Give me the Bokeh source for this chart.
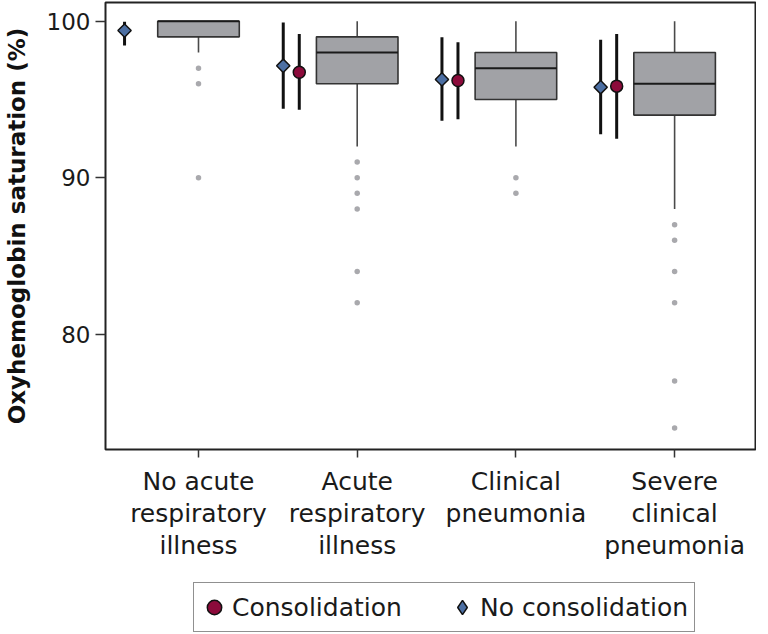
import numpy as np
from bokeh.plotting import figure
from bokeh.layouts import column
from bokeh.models import ColumnDataSource, FixedTicker, Range1d, Legend, LegendItem
from bokeh.embed import file_html
from bokeh.resources import INLINE

# ---------------- data ----------------
categories = ["No acute\nrespiratory\nillness", "Acute\nrespiratory\nillness",
              "Clinical\npneumonia", "Severe\nclinical\npneumonia"]
positions = [1, 2, 3, 4]
q1 = [99, 96, 95, 94]
median = [100, 98, 97, 96]
q3 = [100, 99, 98, 98]
whisker_low = [98, 92, 92, 88]
whisker_high = [100, 100, 100, 100]
outliers = [[97, 96, 90], [91, 90, 89, 88, 84, 82], [90, 89], [87, 86, 84, 82, 77, 74]]

nocons_mean = [99.40, 97.15, 96.28, 95.78]
nocons_low = [98.45, 94.40, 93.64, 92.78]
nocons_high = [99.96, 99.92, 98.98, 98.81]

cons_groups = [2, 3, 4]
cons_mean = [96.74, 96.21, 95.85]
cons_low = [94.34, 93.74, 92.49]
cons_high = [99.19, 98.66, 99.19]

y_ticks = [80, 90, 100]
legend_labels = ["Consolidation", "No consolidation"]

# ---------------- style ----------------
FONT = "DejaVu Sans"
BOX_W = 0.514
OFF_DIAMOND = -0.466
OFF_CIRCLE = -0.365
RED = "#8c0b3b"
BLUE = "#4c6fa3"

p = figure(frame_width=651, frame_height=447, output_backend="svg", toolbar_location=None,
           x_range=Range1d(0.414, 4.516), y_range=Range1d(72.63, 101.195),
           min_border_left=101, min_border_right=0, min_border_top=2, min_border_bottom=130)
p.grid.visible = False
p.outline_line_color = "#222222"
p.outline_line_width = 2
p.background_fill_color = "white"
p.border_fill_color = "white"

# boxes
pos = np.array(positions, dtype=float)
box_src = ColumnDataSource(dict(x=pos, q1=q1, q3=q3, med=median, lo=whisker_low, hi=whisker_high,
                                x0=pos - BOX_W / 2, x1=pos + BOX_W / 2))
p.segment(x0="x", y0="q3", x1="x", y1="hi", source=box_src, line_color="#4a4a4a", line_width=1.6)
p.segment(x0="x", y0="q1", x1="x", y1="lo", source=box_src, line_color="#4a4a4a", line_width=1.6)
p.vbar(x="x", width=BOX_W, bottom="q1", top="q3", source=box_src,
       fill_color="#a1a2a6", line_color="#333333", line_width=1.6)
p.segment(x0="x0", y0="med", x1="x1", y1="med", source=box_src, line_color="#1a1a1a", line_width=2)

# outliers
ox = [positions[i] for i, vals in enumerate(outliers) for _ in vals]
oy = [v for vals in outliers for v in vals]
p.scatter(ox, oy, size=5.5, fill_color="#a9a9ad", line_color=None)

# no consolidation: means and CIs
nx = pos + OFF_DIAMOND
nc_src = ColumnDataSource(dict(x=nx, m=nocons_mean, lo=nocons_low, hi=nocons_high))
p.segment(x0="x", y0="lo", x1="x", y1="hi", source=nc_src, line_color="#111111", line_width=3)
p.scatter(x="x", y="m", source=nc_src, marker="square", angle=np.pi / 4, size=9.4,
          fill_color=BLUE, line_color="#111111", line_width=1.5)

# consolidation
cx = np.array(cons_groups, dtype=float) + OFF_CIRCLE
c_src = ColumnDataSource(dict(x=cx, m=cons_mean, lo=cons_low, hi=cons_high))
p.segment(x0="x", y0="lo", x1="x", y1="hi", source=c_src, line_color="#111111", line_width=3)
p.scatter(x="x", y="m", source=c_src, marker="circle", size=12,
          fill_color=RED, line_color="#111111", line_width=1.5)

# axes
xa = p.xaxis[0]
xa.ticker = FixedTicker(ticks=positions)
xa.major_label_overrides = {positions[i]: categories[i] for i in range(len(positions))}
xa.minor_tick_line_color = None
xa.axis_line_color = None
xa.major_tick_in = 0
xa.major_tick_out = 8
xa.major_tick_line_color = "#333333"
xa.major_tick_line_width = 1.5
xa.major_label_standoff = 9
xa.major_label_text_font = FONT
xa.major_label_text_font_size = "25px"
xa.major_label_text_color = "#1a1a1a"
xa.major_label_text_line_height = 1.12

ya = p.yaxis[0]
ya.ticker = FixedTicker(ticks=y_ticks)
ya.minor_tick_line_color = None
ya.axis_line_color = None
ya.major_tick_in = 0
ya.major_tick_out = 10
ya.major_tick_line_color = "#333333"
ya.major_tick_line_width = 1.5
ya.major_label_standoff = 5
ya.major_label_text_font = FONT
ya.major_label_text_font_size = "23px"
ya.major_label_text_color = "#1a1a1a"
ya.axis_label = "Oxyhemoglobin saturation (%)"
ya.axis_label_text_font = FONT
ya.axis_label_text_font_style = "bold"
ya.axis_label_text_font_size = "23px"
ya.axis_label_text_color = "#111111"
ya.axis_label_standoff = 14

# ---------------- legend strip (own small figure below the chart) ----------------
lf = figure(width=752, height=55, output_backend="svg", toolbar_location=None,
            x_range=Range1d(0, 1), y_range=Range1d(0, 1),
            min_border_left=0, min_border_right=0, min_border_top=0, min_border_bottom=0)
lf.axis.visible = False
lf.grid.visible = False
lf.outline_line_color = None
lf.background_fill_color = "white"
lf.border_fill_color = "white"

# same data as the chart; out of this strip's ranges, so only their legend glyphs show
r_cons = lf.scatter(x="x", y="m", source=c_src, marker="circle", size=12, fill_color=RED,
                    line_color="#111111", line_width=1.5)
r_dia = lf.scatter(x="x", y="m", source=nc_src, marker="diamond", size=12, fill_color=BLUE,
                   line_color="#111111", line_width=1.5)

legend = Legend(items=[LegendItem(label=legend_labels[0], renderers=[r_cons]),
                       LegendItem(label=legend_labels[1], renderers=[r_dia])],
                orientation="horizontal", location=(88, 2),
                glyph_width=36, glyph_height=44, label_standoff=0,
                label_width=212, spacing=0, padding=2, margin=0,
                label_text_font=FONT, label_text_font_size="25px", label_text_color="#1a1a1a",
                border_line_color="#222222", border_line_width=1.5,
                background_fill_color="white", background_fill_alpha=1)
lf.add_layout(legend)

layout = column(p, lf, spacing=0)
open("out.html", "w").write(file_html(layout, INLINE))
